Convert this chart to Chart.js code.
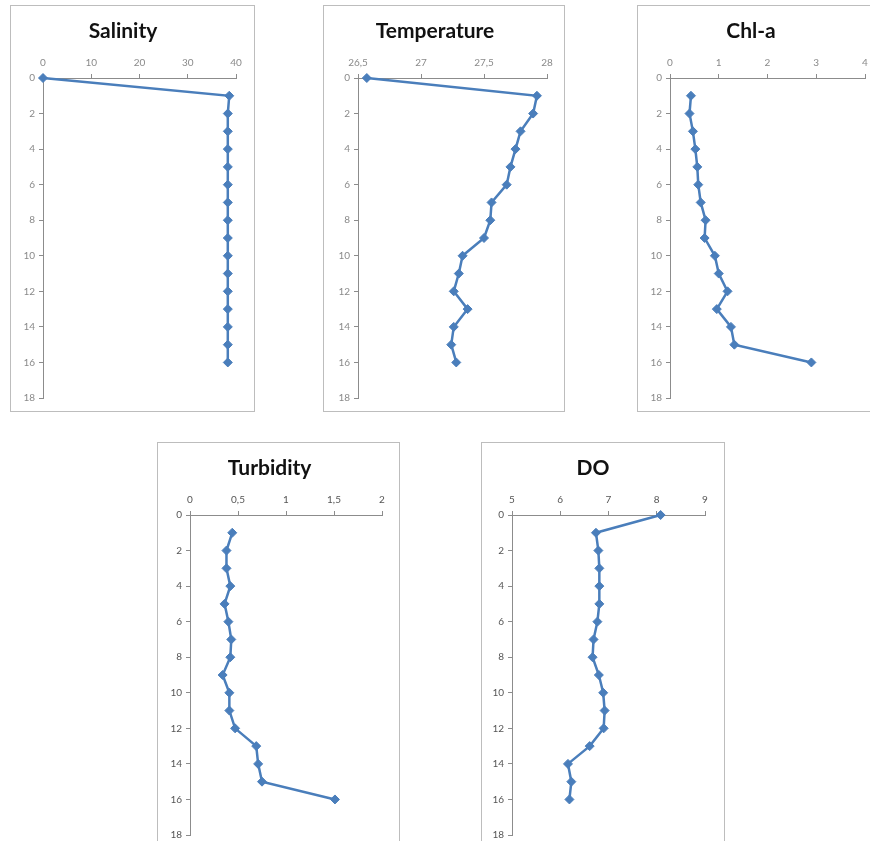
<!DOCTYPE html>
<html>
<head>
<meta charset="utf-8">
<script src="https://cdn.jsdelivr.net/npm/chart.js@4.4.1/dist/chart.umd.min.js"></script>
<style>
    body { margin: 0; background: #fff; width: 870px; height: 841px; overflow: hidden; position: relative; }
    .panel { position: absolute; border: 1px solid #bdbdbd; box-sizing: border-box; background: #fff; }
    .panel canvas { position: absolute; left: -1px; top: -1px; }
</style>
</head>
<body>
<div class="panel" style="left:10px; top:5px; width:245px; height:407px;"><canvas id="c-sal" width="245" height="407"></canvas></div>
<div class="panel" style="left:323px; top:5px; width:242px; height:407px;"><canvas id="c-temp" width="242" height="407"></canvas></div>
<div class="panel" style="left:637px; top:5px; width:246px; height:407px;"><canvas id="c-chl" width="246" height="407"></canvas></div>
<div class="panel" style="left:157px; top:442px; width:243px; height:407px;"><canvas id="c-turb" width="243" height="407"></canvas></div>
<div class="panel" style="left:481px; top:442px; width:244px; height:407px;"><canvas id="c-do" width="244" height="407"></canvas></div>

<script>
// Profundidades (m)
const profundidad0 = [0, 1, 2, 3, 4, 5, 6, 7, 8, 9, 10, 11, 12, 13, 14, 15, 16];
const profundidad1 = [1, 2, 3, 4, 5, 6, 7, 8, 9, 10, 11, 12, 13, 14, 15, 16];
const ticksProfundidad = [0, 2, 4, 6, 8, 10, 12, 14, 16, 18];

// Valores
const salinidad = [0, 38.6, 38.3, 38.3, 38.3, 38.3, 38.3, 38.3, 38.3, 38.3, 38.3, 38.3, 38.3, 38.3, 38.3, 38.3, 38.3];
const temperatura = [26.57, 27.92, 27.89, 27.79, 27.75, 27.71, 27.68, 27.56, 27.55, 27.50, 27.33, 27.30, 27.26, 27.37, 27.26, 27.24, 27.28];
const clorofila = [0.43, 0.40, 0.47, 0.52, 0.56, 0.58, 0.63, 0.73, 0.71, 0.92, 1.00, 1.18, 0.96, 1.25, 1.32, 2.90];
const turbidez = [0.44, 0.38, 0.38, 0.42, 0.36, 0.40, 0.43, 0.42, 0.34, 0.41, 0.41, 0.47, 0.69, 0.71, 0.75, 1.51];
const oxigeno = [8.08, 6.74, 6.79, 6.81, 6.81, 6.81, 6.77, 6.69, 6.67, 6.80, 6.89, 6.92, 6.90, 6.61, 6.16, 6.23, 6.19];

// Ticks del eje superior
const ticksSal = [0, 10, 20, 30, 40];
const ticksTemp = [26.5, 27, 27.5, 28];
const ticksChl = [0, 1, 2, 3, 4];
const ticksTurb = [0, 0.5, 1, 1.5, 2];
const ticksDO = [5, 6, 7, 8, 9];

const AZUL = '#4a7ebb';
const FUENTE = 'Lato, "Open Sans", sans-serif';

function crearPerfil(id, titulo, valores, profundidades, ticksX, margen, colorTicks) {
    const puntos = valores.map((v, i) => ({ x: v, y: profundidades[i] }));
    const altoTitulo = 14 + 21 * 1.2;

    new Chart(document.getElementById(id), {
        type: 'scatter',
        data: {
            datasets: [{
                data: puntos,
                showLine: true,
                borderColor: AZUL,
                backgroundColor: AZUL,
                borderWidth: 2.5,
                pointStyle: 'rectRot',
                pointRadius: 4.5,
                pointBorderWidth: 1,
                clip: false
            }]
        },
        options: {
            responsive: false,
            animation: false,
            layout: { padding: { top: 0, left: 0, right: margen.der, bottom: 14 } },
            plugins: {
                legend: { display: false },
                tooltip: { enabled: false },
                title: {
                    display: true,
                    text: titulo,
                    color: '#111',
                    font: { family: FUENTE, size: 21, weight: 'bold' },
                    padding: { top: 14, bottom: 0 }
                }
            },
            scales: {
                x: {
                    type: 'linear',
                    position: 'top',
                    min: ticksX[0],
                    max: ticksX[ticksX.length - 1],
                    afterBuildTicks: (s) => { s.ticks = ticksX.map(v => ({ value: v })); },
                    afterFit: (s) => { s.height = 73 - altoTitulo; },
                    border: { color: '#8c8c8c', width: 1 },
                    grid: { drawOnChartArea: false, tickLength: 4, color: '#8c8c8c' },
                    ticks: {
                        color: colorTicks,
                        padding: 5,
                        font: { family: FUENTE, size: 10 },
                        callback: (v) => String(v).replace('.', ',')
                    }
                },
                y: {
                    type: 'linear',
                    reverse: true,
                    min: 0,
                    max: 18,
                    afterBuildTicks: (s) => { s.ticks = ticksProfundidad.map(v => ({ value: v })); },
                    afterFit: (s) => { s.width = margen.izq; },
                    border: { color: '#8c8c8c', width: 1 },
                    grid: { drawOnChartArea: false, tickLength: 4, color: '#8c8c8c' },
                    ticks: {
                        color: colorTicks,
                        padding: 4,
                        font: { family: FUENTE, size: 10 }
                    }
                }
            }
        }
    });
}

crearPerfil('c-sal', 'Salinity', salinidad, profundidad0, ticksSal, { izq: 33, der: 19 }, '#8a8a8a');
crearPerfil('c-temp', 'Temperature', temperatura, profundidad0, ticksTemp, { izq: 35, der: 18 }, '#8a8a8a');
crearPerfil('c-chl', 'Chl-a', clorofila, profundidad1, ticksChl, { izq: 33, der: 18 }, '#8a8a8a');
crearPerfil('c-turb', 'Turbidity', turbidez, profundidad1, ticksTurb, { izq: 33, der: 18 }, '#555');
crearPerfil('c-do', 'DO', oxigeno, profundidad0, ticksDO, { izq: 31, der: 20 }, '#555');
</script>
</body>
</html>
